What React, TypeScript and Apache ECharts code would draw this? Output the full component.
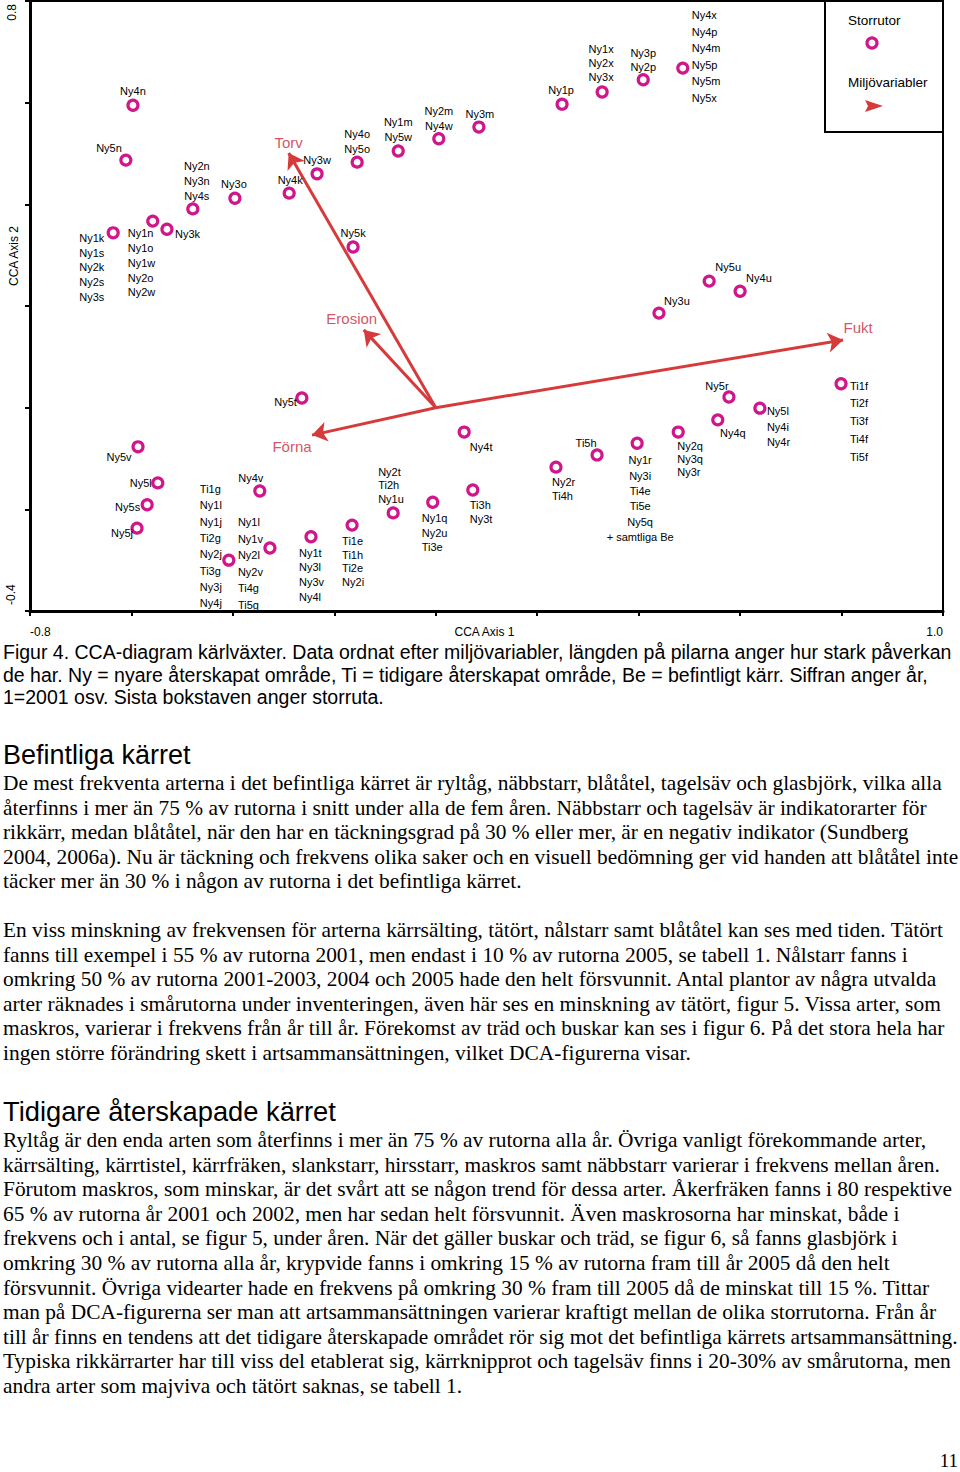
import React, { useEffect, useRef } from 'react';
import * as echarts from 'echarts';

// ---------- axes ----------
const xMin = -0.8;
const xMax = 1.0;
const yMin = -0.4;
const yMax = 0.8;
const tickStep = 0.2;
const xTickLabels = ['-0.8', '1.0'];
const yTickLabels = ['-0.4', '0.8'];
const xAxisName = 'CCA Axis 1';
const yAxisName = 'CCA Axis 2';

// ---------- storrutor (site scores) ----------
const siteNames: string[][] = [
  ['Ny4n'],
  ['Ny5n'],
  ['Ny2n', 'Ny3n', 'Ny4s'],
  ['Ny3o'],
  ['Ny1k', 'Ny1s', 'Ny2k', 'Ny2s', 'Ny3s'],
  ['Ny1n', 'Ny1o', 'Ny1w', 'Ny2o', 'Ny2w'],
  ['Ny3k'],
  ['Ny4k'],
  ['Ny3w'],
  ['Ny4o', 'Ny5o'],
  ['Ny1m', 'Ny5w'],
  ['Ny2m', 'Ny4w'],
  ['Ny3m'],
  ['Ny5k'],
  ['Ny1p'],
  ['Ny1x', 'Ny2x', 'Ny3x'],
  ['Ny3p', 'Ny2p'],
  ['Ny4x', 'Ny4p', 'Ny4m', 'Ny5p', 'Ny5m', 'Ny5x'],
  ['Ny5u'],
  ['Ny4u'],
  ['Ny3u'],
  ['Ny5v'],
  ['Ny5l'],
  ['Ny5s'],
  ['Ny5j'],
  ['Ti1g', 'Ny1l', 'Ny1j', 'Ti2g', 'Ny2j', 'Ti3g', 'Ny3j', 'Ny4j'],
  ['Ny4v'],
  ['Ny1l', 'Ny1v', 'Ny2l', 'Ny2v', 'Ti4g', 'Ti5g'],
  ['Ny1t', 'Ny3l', 'Ny3v', 'Ny4l'],
  ['Ny5t'],
  ['Ny4t'],
  ['Ny2t', 'Ti2h', 'Ny1u'],
  ['Ny1q', 'Ny2u', 'Ti3e'],
  ['Ti3h', 'Ny3t'],
  ['Ti1e', 'Ti1h', 'Ti2e', 'Ny2i'],
  ['Ny2r', 'Ti4h'],
  ['Ti5h'],
  ['Ny1r', 'Ny3i', 'Ti4e', 'Ti5e', 'Ny5q', '+ samtliga Be'],
  ['Ny2q', 'Ny3q', 'Ny3r'],
  ['Ny5r'],
  ['Ny4q'],
  ['Ny5l', 'Ny4i', 'Ny4r'],
  ['Ti1f', 'Ti2f', 'Ti3f', 'Ti4f', 'Ti5f'],
];
const siteAxis1: number[] = [
  -0.597, -0.611, -0.479, -0.396, -0.636, -0.558, -0.53, -0.289, -0.234, -0.155,
  -0.074, 0.006, 0.085, -0.163, 0.249, 0.328, 0.409, 0.487, 0.539, 0.6,
  0.44, -0.587, -0.548, -0.569, -0.589, -0.408, -0.347, -0.327, -0.246, -0.264,
  0.056, -0.084, -0.006, 0.073, -0.165, 0.237, 0.318, 0.397, 0.478, 0.578,
  0.556, 0.639, 0.799,
];
const siteAxis2: number[] = [
  0.595, 0.487, 0.391, 0.412, 0.344, 0.367, 0.351, 0.422, 0.46, 0.483,
  0.505, 0.529, 0.552, 0.316, 0.597, 0.621, 0.645, 0.668, 0.249, 0.229,
  0.186, -0.077, -0.148, -0.191, -0.237, -0.3, -0.164, -0.276, -0.254, 0.019,
  -0.048, -0.207, -0.186, -0.162, -0.231, -0.117, -0.093, -0.07, -0.048, 0.021,
  -0.024, -0.001, 0.047,
];

// ---------- miljövariabler (biplot arrows) ----------
const envNames = ['Torv', 'Erosion', 'Förna', 'Fukt'];
const envAxis1 = [-0.29, -0.142, -0.244, 0.803];
const envAxis2 = [0.501, 0.153, -0.054, 0.133];

// ---------- legend ----------
const legendSites = 'Storrutor';
const legendEnv = 'Miljövariabler';

// ---------- label placement (layout only) [align, dx, dyFirstLine, lineHeight] ----------
const siteLabelLayout: [string, number, number, number][] = [
  ['center', 0, -14, 15],
  ['right', -4, -12, 15],
  ['center', 4, -43, 15],
  ['center', -1, -14, 15],
  ['left', -34, 5, 14.8],
  ['left', -25, 12, 14.8],
  ['left', 8, 5, 15],
  ['center', 1, -13, 15],
  ['center', 0, -14, 15],
  ['center', 0, -28, 15],
  ['center', 0, -29, 15],
  ['center', 0, -28, 15],
  ['center', 1, -13, 15],
  ['center', 0, -14, 15],
  ['center', -1, -14, 15],
  ['center', -1, -43, 14],
  ['center', 0, -27, 14],
  ['left', 9, -53, 16.6],
  ['center', 19, -14, 15],
  ['left', 6, -13, 15],
  ['center', 18, -12, 15],
  ['center', -19, 10, 15],
  ['right', -6, 0, 15],
  ['right', -7, 2, 15],
  ['right', -4, 5, 15],
  ['left', -29, -71, 16.3],
  ['center', -9, -13, 15],
  ['left', -32, -26, 16.6],
  ['left', -12, 16, 14.7],
  ['right', -5, 4, 15],
  ['center', 17, 15, 15],
  ['left', -15, -41, 13.5],
  ['left', -11, 16, 14.5],
  ['left', -3, 15, 14],
  ['left', -10, 16, 13.7],
  ['left', -4, 15, 14],
  ['center', -11, -12, 15],
  ['center', 3, 17, 15.4],
  ['left', -1, 14, 13],
  ['center', -12, -11, 15],
  ['center', 15, 13, 15],
  ['left', 7, 3, 15.5],
  ['left', 9, 2, 17.7],
];
const envLabelOffset: [number, number][] = [
  [0, -10],
  [-12, -11],
  [-20, 11],
  [15, -13],
];

// ---------- page text ----------
const captionLines = [
  'Figur 4. CCA-diagram kärlväxter. Data ordnat efter miljövariabler, längden på pilarna anger hur stark påverkan',
  'de har. Ny = nyare återskapat område, Ti = tidigare återskapat område, Be = befintligt kärr. Siffran anger år,',
  '1=2001 osv. Sista bokstaven anger storruta.',
];
const heading1 = 'Befintliga kärret';
const para1 = [
  'De mest frekventa arterna i det befintliga kärret är ryltåg, näbbstarr, blåtåtel, tagelsäv och glasbjörk, vilka alla',
  'återfinns i mer än 75 % av rutorna i snitt under alla de fem åren. Näbbstarr och tagelsäv är indikatorarter för',
  'rikkärr, medan blåtåtel, när den har en täckningsgrad på 30 % eller mer, är en negativ indikator (Sundberg',
  '2004, 2006a). Nu är täckning och frekvens olika saker och en visuell bedömning ger vid handen att blåtåtel inte',
  'täcker mer än 30 % i någon av rutorna i det befintliga kärret.',
];
const para2 = [
  'En viss minskning av frekvensen för arterna kärrsälting, tätört, nålstarr samt blåtåtel kan ses med tiden. Tätört',
  'fanns till exempel i 55 % av rutorna 2001, men endast i 10 % av rutorna 2005, se tabell 1. Nålstarr fanns i',
  'omkring 50 % av rutorna 2001-2003, 2004 och 2005 hade den helt försvunnit. Antal plantor av några utvalda',
  'arter räknades i smårutorna under inventeringen, även här ses en minskning av tätört, figur 5. Vissa arter, som',
  'maskros, varierar i frekvens från år till år. Förekomst av träd och buskar kan ses i figur 6. På det stora hela har',
  'ingen större förändring skett i artsammansättningen, vilket DCA-figurerna visar.',
];
const heading2 = 'Tidigare återskapade kärret';
const para3 = [
  'Ryltåg är den enda arten som återfinns i mer än 75 % av rutorna alla år. Övriga vanligt förekommande arter,',
  'kärrsälting, kärrtistel, kärrfräken, slankstarr, hirsstarr, maskros samt näbbstarr varierar i frekvens mellan åren.',
  'Förutom maskros, som minskar, är det svårt att se någon trend för dessa arter. Åkerfräken fanns i 80 respektive',
  '65 % av rutorna år 2001 och 2002, men har sedan helt försvunnit. Även maskrosorna har minskat, både i',
  'frekvens och i antal, se figur 5, under åren. När det gäller buskar och träd, se figur 6, så fanns glasbjörk i',
  'omkring 30 % av rutorna alla år, krypvide fanns i omkring 15 % av rutorna fram till år 2005 då den helt',
  'försvunnit. Övriga videarter hade en frekvens på omkring 30 % fram till 2005 då de minskat till 15 %. Tittar',
  'man på DCA-figurerna ser man att artsammansättningen varierar kraftigt mellan de olika storrutorna. Från år',
  'till år finns en tendens att det tidigare återskapade området rör sig mot det befintliga kärrets artsammansättning.',
  'Typiska rikkärrarter har till viss del etablerat sig, kärrknipprot och tagelsäv finns i 20-30% av smårutorna, men',
  'andra arter som majviva och tätört saknas, se tabell 1.',
];
const pageNumber = '11';

const MAGENTA = '#d0168a';
const ARROW_RED = '#d63a3a';
const LABEL_RED = '#c8283a';
const SANS = 'Liberation Sans, Arial, sans-serif';
const SERIF = 'Liberation Serif, Times New Roman, serif';
const BODY_SIZE = 21.4;

function Chart() {
  const ref = useRef<HTMLDivElement>(null);
  useEffect(() => {
    if (!ref.current) return;
    const chart = echarts.init(ref.current, null, { renderer: 'svg' });

    const siteData = siteNames.map((names, i) => {
      const [align, dx, dy, lh] = siteLabelLayout[i];
      return {
        name: names.join('\n'),
        value: [siteAxis1[i], siteAxis2[i]],
        label: {
          show: true,
          position: 'inside',
          align,
          verticalAlign: 'top',
          offset: [dx, dy - lh / 2],
          lineHeight: lh,
          formatter: names.join('\n'),
        },
      };
    });

    const arrowData = envNames.map((n, i) => ({
      name: n,
      coords: [
        [0, 0],
        [envAxis1[i], envAxis2[i]],
      ],
    }));

    const envLabelData = envNames.map((n, i) => ({
      name: n,
      value: [envAxis1[i], envAxis2[i]],
      label: {
        show: true,
        position: 'inside',
        align: 'center',
        verticalAlign: 'middle',
        offset: envLabelOffset[i],
        formatter: n,
      },
    }));

    const axisCommon = {
      type: 'value',
      interval: tickStep,
      axisLine: { show: true, onZero: false, lineStyle: { color: '#000', width: 3 } },
      axisTick: { show: true, inside: false, length: 5, lineStyle: { color: '#000', width: 2 } },
      axisLabel: { show: false },
      splitLine: { show: false },
    };

    chart.setOption({
      animation: false,
      backgroundColor: '#fff',
      grid: {
        left: 30,
        right: 17,
        top: 1,
        bottom: 29,
        show: true,
        borderColor: '#000',
        borderWidth: 2,
        backgroundColor: 'transparent',
        containLabel: false,
        outerBoundsMode: 'none',
      },
      xAxis: { ...axisCommon, min: xMin, max: xMax },
      yAxis: { ...axisCommon, min: yMin, max: yMax },
      series: [
        {
          type: 'lines',
          name: legendEnv,
          coordinateSystem: 'cartesian2d',
          polyline: false,
          symbol: ['none', 'arrow'],
          symbolSize: 15,
          lineStyle: { color: ARROW_RED, width: 3, opacity: 1, curveness: 0 },
          itemStyle: { color: ARROW_RED },
          data: arrowData,
          z: 2,
        },
        {
          type: 'scatter',
          name: 'envLabels',
          symbol: 'circle',
          symbolSize: 1,
          itemStyle: { color: 'rgba(0,0,0,0)' },
          label: {
            show: true,
            color: LABEL_RED,
            fontFamily: SANS,
            fontSize: 15,
          },
          data: envLabelData,
          z: 3,
        },
        {
          type: 'scatter',
          name: legendSites,
          symbol: 'circle',
          symbolSize: 10,
          itemStyle: { color: '#fff', borderColor: MAGENTA, borderWidth: 3.2, opacity: 1 },
          label: {
            color: '#000',
            fontFamily: SANS,
            fontSize: 11,
          },
          data: siteData,
          z: 4,
        },
      ],
    });

    const p = (x: number, y: number) => chart.convertToPixel({ gridIndex: 0 }, [x, y]) as number[];
    const bl = p(xMin, yMin);
    const tr = p(xMax, yMax);
    const txt = (text: string, x: number, y: number, align: string, size: number, rotation = 0, extra: any = {}) => ({
      type: 'text',
      x,
      y,
      rotation,
      z: 100,
      style: {
        text,
        fill: '#000',
        font: `${size}px ${SANS}`,
        align,
        textAlign: align,
        verticalAlign: 'middle',
        textVerticalAlign: 'middle',
        ...extra,
      },
    });

    chart.setOption({
      graphic: [
        txt(xTickLabels[0], bl[0], bl[1] + 21, 'left', 12),
        txt(xTickLabels[1], tr[0], bl[1] + 21, 'right', 12),
        txt(xAxisName, (bl[0] + tr[0]) / 2 - 2, bl[1] + 21, 'center', 12),
        txt(yTickLabels[0], 11, bl[1] - 6, 'left', 12, Math.PI / 2),
        txt(yTickLabels[1], 12, tr[1] + 3, 'right', 12, Math.PI / 2),
        txt(yAxisName, 14, 256, 'center', 12, Math.PI / 2),
        {
          type: 'rect',
          z: 90,
          shape: { x: 825, y: 1, width: 118, height: 131 },
          style: { fill: '#fff', stroke: '#000', lineWidth: 2 },
        },
        txt(legendSites, 848, 20, 'left', 13.5),
        {
          type: 'circle',
          z: 100,
          shape: { cx: 872, cy: 43, r: 5 },
          style: { fill: '#fff', stroke: MAGENTA, lineWidth: 3.2 },
        },
        txt(legendEnv, 848, 82, 'left', 13.5),
        {
          type: 'polygon',
          z: 100,
          shape: { points: [[865, 100], [883, 106], [865, 112], [868, 106]] },
          style: { fill: ARROW_RED },
        },
      ],
    });

    return () => chart.dispose();
  }, []);
  return <div ref={ref} style={{ position: 'absolute', left: 0, top: 0, width: 960, height: 640 }} />;
}

const lineBlock = (lines: string[]) =>
  lines.map((l, i) => (
    <div key={i} style={{ whiteSpace: 'pre' }}>
      {l}
    </div>
  ));

export default function App() {
  return (
    <div
      style={{
        position: 'absolute',
        left: 0,
        top: 0,
        width: 960,
        height: 1472,
        background: '#fff',
        overflow: 'hidden',
        color: '#000',
      }}
    >
      <Chart />
      <div style={{ position: 'absolute', left: 3, top: 641, fontFamily: SANS, fontSize: 19.5, lineHeight: '22.5px' }}>
        {lineBlock(captionLines)}
      </div>
      <div style={{ position: 'absolute', left: 3, top: 740, fontFamily: SANS, fontSize: 27, lineHeight: '30px' }}>
        {heading1}
      </div>
      <div style={{ position: 'absolute', left: 3, top: 771, fontFamily: SERIF, fontSize: BODY_SIZE, lineHeight: '24.6px' }}>
        {lineBlock(para1)}
      </div>
      <div style={{ position: 'absolute', left: 3, top: 918, fontFamily: SERIF, fontSize: BODY_SIZE, lineHeight: '24.6px' }}>
        {lineBlock(para2)}
      </div>
      <div style={{ position: 'absolute', left: 3, top: 1097, fontFamily: SANS, fontSize: 27.3, lineHeight: '30px' }}>
        {heading2}
      </div>
      <div style={{ position: 'absolute', left: 3, top: 1128, fontFamily: SERIF, fontSize: BODY_SIZE, lineHeight: '24.6px' }}>
        {lineBlock(para3)}
      </div>
      <div
        style={{
          position: 'absolute',
          right: 2,
          top: 1452,
          fontFamily: SERIF,
          fontSize: 19,
          lineHeight: '18px',
        }}
      >
        {pageNumber}
      </div>
    </div>
  );
}
